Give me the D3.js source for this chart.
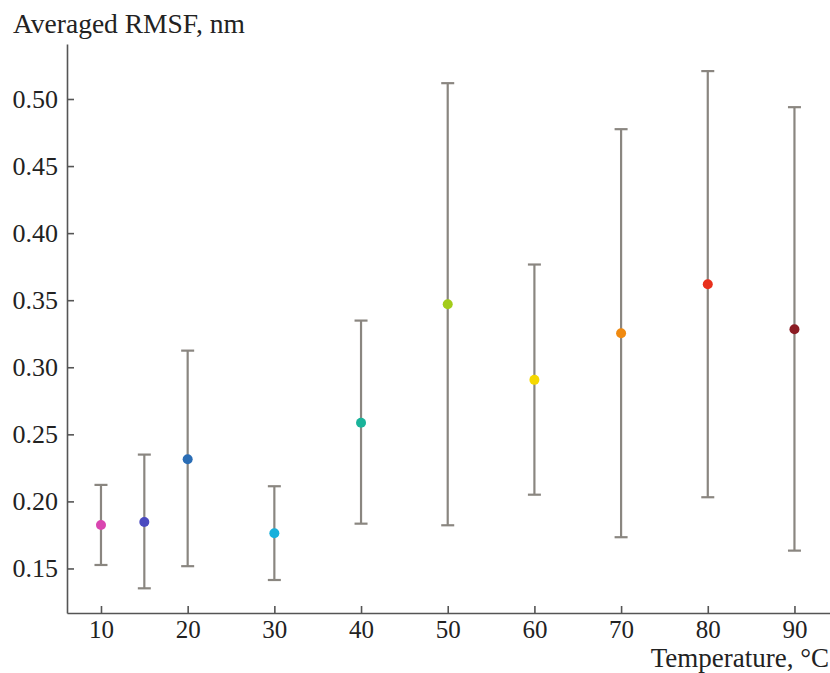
<!DOCTYPE html>
<html>
<head>
<meta charset="utf-8">
<script src="https://cdn.jsdelivr.net/npm/d3@7"></script>
<style>
	body { margin: 0; background: #fff; }
</style>
</head>
<body>
<div id="chart"></div>
<script>

// temperatures, degrees C
const temperatures = [10, 15, 20, 30, 40, 50, 60, 70, 80, 90]
// averaged RMSF, nm
const means = [0.1824, 0.1847, 0.2314, 0.1762, 0.2587, 0.3470, 0.2906, 0.3254, 0.3619, 0.3284]
// error bar ends
const lows = [0.1526, 0.1352, 0.1517, 0.1414, 0.1834, 0.1822, 0.2050, 0.1733, 0.2031, 0.1633]
const highs = [0.2123, 0.2349, 0.3124, 0.2113, 0.3348, 0.5118, 0.3766, 0.4775, 0.5208, 0.4939]
const pointColors = ['#d946b0', '#4b4bc0', '#2a6db5', '#17b0dc', '#1ab39a', '#a3cc1a', '#f5d800', '#f08a10', '#e8301c', '#8b1c24']
const xTicks = [10, 20, 30, 40, 50, 60, 70, 80, 90]
const yTicks = [0.15, 0.20, 0.25, 0.30, 0.35, 0.40, 0.45, 0.50]

let width = 830
	, height = 673
	, left = 67
	, bottom = 613
	, tickFont = 26
	, xTickFont = 25
	, titleFont = 27.5
	, serif = "'Liberation Serif', 'Times New Roman', 'DejaVu Serif', serif"
	, x = d3.scaleLinear()
		.domain([6.08, 94.1])
		.range([left, width])
	, y = d3.scaleLinear()
		.domain([0.1168, 0.541])
		.range([bottom, 44])

let data = temperatures.map((t, i) => ({
	t: t
	, mean: means[i]
	, low: lows[i]
	, high: highs[i]
	, color: pointColors[i]
}))

let svg = d3.select('#chart')
	.append('svg')
	  .attr('width', width)
	  .attr('height', height)
	  .attr('font-family', serif)

// axes, ticks pointing inward
let xAxis = svg.append('g')
	.attr('transform', 'translate(0,' + bottom + ')')
	.call(d3.axisBottom(x)
		.tickValues(xTicks)
		.tickFormat(d3.format('d'))
		.tickSize(-7)
		.tickSizeOuter(0)
		.tickPadding(7))

let yAxis = svg.append('g')
	.attr('transform', 'translate(' + left + ',0)')
	.call(d3.axisLeft(y)
		.tickValues(yTicks)
		.tickFormat(d3.format('.2f'))
		.tickSize(-7)
		.tickSizeOuter(0)
		.tickPadding(9))

// d3 puts sans-serif on the axis groups, undo that
xAxis.attr('font-family', serif).attr('font-size', xTickFont)
yAxis.attr('font-family', serif).attr('font-size', tickFont)

svg.selectAll('.domain, .tick line')
	.attr('stroke', '#555')
	.attr('stroke-width', 1.6)

svg.selectAll('.tick text')
	.attr('fill', '#222')

// error bars
let bars = svg.append('g')
	.selectAll('g')
	.data(data)
	.join('g')
	  .attr('stroke', '#8a8680')
	  .attr('stroke-width', 2.2)

bars.append('line')
	.attr('x1', d => x(d.t))
	.attr('x2', d => x(d.t))
	.attr('y1', d => y(d.low))
	.attr('y2', d => y(d.high))

bars.selectAll('.cap')
	.data(d => [d.low, d.high].map(v => ({ t: d.t, v: v })))
	.join('line')
	  .attr('class', 'cap')
	  .attr('x1', d => x(d.t) - 6.5)
	  .attr('x2', d => x(d.t) + 6.5)
	  .attr('y1', d => y(d.v))
	  .attr('y2', d => y(d.v))

// mean points
svg.append('g')
	.selectAll('circle')
	.data(data)
	.join('circle')
	  .attr('cx', d => x(d.t))
	  .attr('cy', d => y(d.mean))
	  .attr('r', 5)
	  .attr('fill', d => d.color)

// axis titles
svg.append('text')
	.attr('x', 13)
	.attr('y', 33)
	.attr('font-size', titleFont)
	.attr('fill', '#222')
	.text('Averaged RMSF, nm')

svg.append('text')
	.attr('x', 829)
	.attr('y', 666.5)
	.attr('text-anchor', 'end')
	.attr('font-size', 27)
	.attr('fill', '#222')
	.text('Temperature, °C')

</script>
</body>
</html>
